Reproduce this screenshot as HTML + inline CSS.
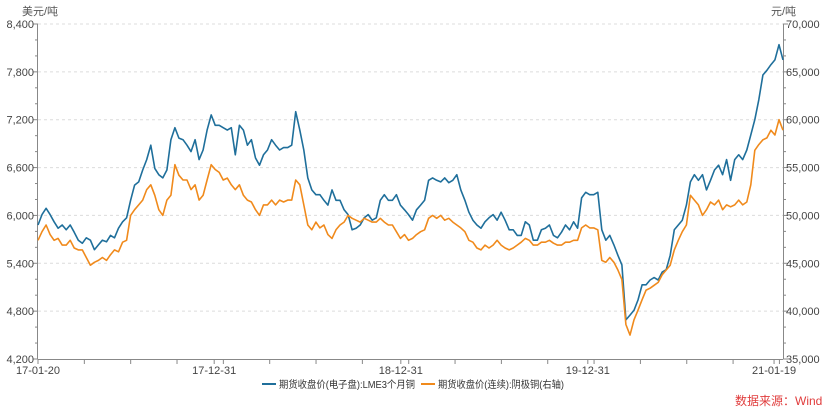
<!DOCTYPE html>
<html><head><meta charset="utf-8">
<style>
html,body{margin:0;padding:0;background:#fff;}
svg{display:block;font-family:"Liberation Sans","Noto Sans CJK SC",sans-serif;}
</style></head>
<body>
<svg id="chart" width="828" height="409" viewBox="0 0 828 409" xmlns="http://www.w3.org/2000/svg">
<g id="grid"></g>
<g id="axes"></g>
<g id="series"></g>
<text x="22" y="15" font-size="11" fill="#555">美元/吨</text>
<text x="771" y="15" font-size="11" fill="#555">元/吨</text>
<g>
<g>
<line x1="262" y1="384" x2="276" y2="384" stroke="#1f6f9b" stroke-width="2"/>
<text x="279" y="388" font-size="10" fill="#333" textLength="136" lengthAdjust="spacingAndGlyphs">期货收盘价(电子盘):LME3个月铜</text>
</g>
<g>
<line x1="421" y1="384" x2="435" y2="384" stroke="#f08a1c" stroke-width="2"/>
<text x="438" y="388" font-size="10" fill="#333" textLength="126" lengthAdjust="spacingAndGlyphs">期货收盘价(连续):阴极铜(右轴)</text>
</g>
</g>
<text x="735" y="405" font-size="12" fill="#e03c3c">数据来源：Wind</text>
</svg>
<script>
const leftTicks = [4200,4800,5400,6000,6600,7200,7800,8400];
const rightTicks = [35000,40000,45000,50000,55000,60000,65000,70000];
const xLabels = ["17-01-20","17-12-31","18-12-31","19-12-31","21-01-19"];
const xLabelPos = [0, 0.2365, 0.487, 0.738, 0.988];
const lmeValues = [5880,6010,6090,6010,5920,5840,5880,5820,5880,5790,5690,5650,5720,5690,5570,5630,5690,5670,5750,5720,5840,5920,5970,6190,6380,6420,6570,6700,6880,6590,6510,6470,6570,6950,7100,6970,6950,6880,6800,6950,6700,6820,7070,7260,7130,7130,7100,7070,7100,6760,7130,7070,6880,6950,6720,6630,6760,6820,6950,6880,6820,6850,6850,6880,7300,7070,6820,6470,6320,6260,6260,6190,6130,6320,6190,6190,6070,6010,5820,5840,5880,5970,6010,5940,5970,6190,6260,6190,6190,6260,6130,6070,6010,5940,6070,6130,6190,6440,6470,6440,6420,6470,6410,6440,6510,6320,6190,6040,5940,5880,5840,5920,5970,6010,5940,6040,5940,5820,5820,5750,5750,5920,5880,5690,5690,5820,5840,5880,5750,5720,5790,5880,5820,5920,5840,6220,6290,6260,6260,6290,5820,5690,5750,5630,5500,5380,4690,4750,4810,4940,5130,5130,5190,5220,5190,5290,5320,5500,5820,5880,5940,6130,6420,6510,6440,6510,6320,6440,6570,6630,6510,6700,6440,6700,6760,6700,6820,7010,7200,7450,7760,7820,7890,7950,8140,7950];
const shfeValues = [47400,48300,49000,48000,47400,47600,46900,46900,47400,46600,46400,46400,45600,44800,45100,45300,45600,45300,45900,46400,46200,47200,47400,50000,50600,51100,51600,52700,53200,52100,50600,50000,51600,52100,55300,54200,53700,53700,52700,53200,51600,52100,53700,55300,54800,54500,53700,53900,53200,52700,53200,52100,51600,51400,50600,50000,51100,51100,51600,51100,51600,51400,51600,51600,53700,53200,51100,49000,48500,49300,48700,49000,48000,47600,48500,49000,49300,50000,49700,49500,49300,49700,49500,49300,49300,49700,49300,49000,49000,48300,47600,48000,47400,47600,48000,48300,48500,49700,50000,49700,50000,49500,49700,49300,49000,48700,48300,47400,47200,46600,46400,46900,46600,46900,47400,46900,46600,46400,46600,46900,47200,47600,47400,46900,46900,47200,47200,47400,47100,46900,46900,47200,47200,47400,47400,48700,49000,48700,48700,48500,45300,45100,45600,45100,44300,43300,38600,37500,39100,40100,41200,42200,42400,42700,43000,43800,44300,44800,46400,47400,48300,49000,52100,51600,51100,50000,50600,51400,51100,51600,50600,51100,50900,51100,51600,51100,51400,53200,56800,57400,57900,58100,58900,58400,60000,58900];

const NS = "http://www.w3.org/2000/svg";
const X0 = 38, X1 = 783, Y0 = 359, Y1 = 24;
const yL = v => Y0 - (v - 4200) / (8400 - 4200) * (Y0 - Y1);
const yR = v => Y0 - (v - 35000) / (70000 - 35000) * (Y0 - Y1);
const xIdx = (i, n) => X0 + i / (n - 1) * (X1 - X0);
const xFrac = f => X0 + f * (X1 - X0);
function mk(tag, attrs, parent) {
  const e = document.createElementNS(NS, tag);
  for (const k in attrs) e.setAttribute(k, attrs[k]);
  parent.appendChild(e);
  return e;
}
const grid = document.getElementById('grid');
const axes = document.getElementById('axes');
const series = document.getElementById('series');

leftTicks.forEach((v, i) => {
  const y = yL(v);
  if (i > 0) {
    const g = mk('line', {x1: X0, x2: X1, y1: y, y2: y, stroke: '#dcdcdc', 'stroke-dasharray': '3,3', 'stroke-width': 1}, grid);
    
    
  }
  mk('line', {x1: X0 - 5, x2: X0, y1: y, y2: y, stroke: '#888'}, axes);
  const t = mk('text', {x: X0 - 4, y: y + 4, 'text-anchor': 'end', 'font-size': 11, fill: '#444'}, axes);
  t.textContent = v.toLocaleString('en-US');
  
  
  if (i < leftTicks.length - 1) {
    const step = (yL(leftTicks[i]) - yL(leftTicks[i + 1])) / 3;
    for (let k = 1; k < 3; k++) {
      mk('line', {x1: X0 - 3, x2: X0, y1: y - k * step, y2: y - k * step, stroke: '#888'}, axes);
      mk('line', {x1: X1, x2: X1 + 3, y1: y - k * step, y2: y - k * step, stroke: '#888'}, axes);
    }
  }
});
rightTicks.forEach(v => {
  const y = yR(v);
  mk('line', {x1: X1, x2: X1 + 5, y1: y, y2: y, stroke: '#888'}, axes);
  const t = mk('text', {x: X1 + 3, y: y + 4, 'font-size': 11, fill: '#444'}, axes);
  t.textContent = v.toLocaleString('en-US');
  
  
});
mk('line', {x1: X0 - 0.5, x2: X0 - 0.5, y1: Y1, y2: Y0, stroke: '#888'}, axes);
mk('line', {x1: X1 + 0.5, x2: X1 + 0.5, y1: Y1, y2: Y0, stroke: '#888'}, axes);
mk('line', {x1: X0, x2: X1, y1: Y0 + 0.5, y2: Y0 + 0.5, stroke: '#888'}, axes);
for (let q = 0; q <= 16; q++) {
  const x = xFrac(q * 0.0622);
  if (x <= X1) mk('line', {x1: x, x2: x, y1: Y0, y2: Y0 + 5, stroke: '#888'}, axes);
}
xLabels.forEach((s, i) => {
  const x = xFrac(xLabelPos[i]);
  mk('line', {x1: x, x2: x, y1: Y0, y2: Y0 + 5, stroke: '#888'}, axes);
  const t = mk('text', {x: x, y: Y0 + 15, 'text-anchor': 'middle', 'font-size': 11, fill: '#444'}, axes);
  t.textContent = s;
  
  
});

function drawLine(vals, yf, color, name) {
  const d = vals.map((v, i) => (i ? 'L' : 'M') + xIdx(i, vals.length).toFixed(1) + ',' + yf(v).toFixed(1)).join('');
  const p = mk('path', {d: d, fill: 'none', stroke: color, 'stroke-width': 1.6, 'stroke-linejoin': 'round'}, series);
  
  
}
drawLine(lmeValues, yL, '#1f6f9b', 'lme-copper-line');
drawLine(shfeValues, yR, '#f08a1c', 'shfe-copper-line');
</script>
</body></html>
